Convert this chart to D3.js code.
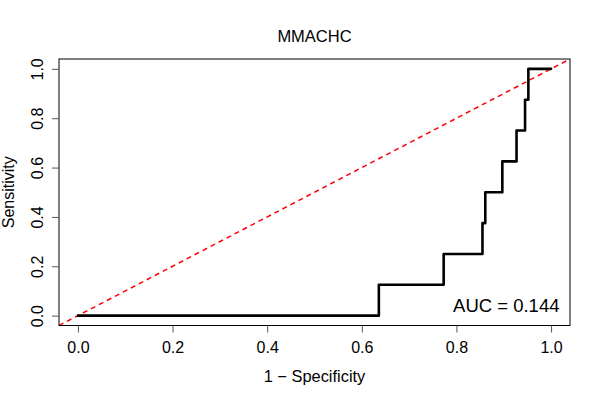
<!DOCTYPE html>
<html>
<head>
<meta charset="utf-8">
<script src="https://cdn.jsdelivr.net/npm/d3@7"></script>
<style>
  html, body { margin: 0; padding: 0; background: #fff; }
  svg { display: block; font-family: "Liberation Sans", Arial, Helvetica, sans-serif; }
</style>
</head>
<body>
<svg id="chart" width="600" height="400"></svg>
<script>
// ---- Data ----
const title = "MMACHC";
const xLabel = "1 \u2212 Specificity";
const yLabel = "Sensitivity";
const aucText = "AUC = 0.144";
// ROC step points: x = 1 - specificity, y = sensitivity (value after the step)
const fpr = [0, 0.636, 0.773, 0.855, 0.861, 0.897, 0.927, 0.945, 0.952, 1.0];
const tpr = [0, 0.125, 0.25, 0.375, 0.5, 0.625, 0.75, 0.875, 1.0, 1.0];
const xTicks = [0, 0.2, 0.4, 0.6, 0.8, 1.0];
const yTicks = [0, 0.2, 0.4, 0.6, 0.8, 1.0];
const refLine = [[-0.04, -0.04], [1.04, 1.04]];

// ---- Layout ----
const svg = d3.select("#chart");
const L = 59, R = 570, T = 59, B = 325.5;

const x = d3.scaleLinear().domain([-0.04, 1.04]).range([L, R]);
const y = d3.scaleLinear().domain([-0.04, 1.04]).range([B, T]);

// clip to plot region
svg.append("defs").append("clipPath").attr("id", "clip")
  .append("rect").attr("x", L).attr("y", T).attr("width", R - L).attr("height", B - T);

const plot = svg.append("g").attr("clip-path", "url(#clip)");

// reference diagonal
plot.append("path")
  .datum(refLine)
  .attr("d", d3.line().x(d => x(d[0])).y(d => y(d[1])))
  .attr("fill", "none")
  .attr("stroke", "#ff0000")
  .attr("stroke-width", 1.5)
  .attr("stroke-dasharray", "5,4");

// ROC curve
const pts = fpr.map((v, i) => [v, tpr[i]]);
plot.append("path")
  .datum(pts)
  .attr("d", d3.line().x(d => x(d[0])).y(d => y(d[1])).curve(d3.curveStepAfter))
  .attr("fill", "none")
  .attr("stroke", "#000")
  .attr("stroke-width", 2.6)
  .attr("stroke-linejoin", "round")
  .attr("stroke-linecap", "round");

// box
svg.append("rect")
  .attr("x", L).attr("y", T).attr("width", R - L).attr("height", B - T)
  .attr("fill", "none").attr("stroke", "#000").attr("stroke-width", 1);

// x axis
const xAxis = svg.append("g").attr("transform", `translate(0,${B})`)
  .call(d3.axisBottom(x).tickValues(xTicks).tickFormat(d3.format(".1f")).tickSize(7).tickPadding(9));
xAxis.select(".domain").remove();
xAxis.selectAll("line").attr("stroke", "#555");
xAxis.selectAll("text").attr("font-size", 16).attr("fill", "#000")
  .attr("font-family", "Liberation Sans, Arial, sans-serif");

// y axis
const yAxis = svg.append("g").attr("transform", `translate(${L},0)`)
  .call(d3.axisLeft(y).tickValues(yTicks).tickFormat(d3.format(".1f")).tickSize(7).tickPadding(0));
yAxis.select(".domain").remove();
yAxis.selectAll("line").attr("stroke", "#555");
yAxis.selectAll("text")
  .attr("font-size", 16).attr("fill", "#000")
  .attr("font-family", "Liberation Sans, Arial, sans-serif")
  .attr("text-anchor", "middle")
  .attr("dy", null)
  .attr("x", null)
  .attr("y", 0)
  .attr("transform", `translate(${43 - L},0) rotate(-90)`);

// titles
svg.append("text").attr("x", (L + R) / 2).attr("y", 42)
  .attr("text-anchor", "middle").attr("font-size", 16.5).text(title);

svg.append("text").attr("x", (L + R) / 2).attr("y", 382)
  .attr("text-anchor", "middle").attr("font-size", 16.4).text(xLabel);

svg.append("text")
  .attr("transform", `translate(14,${(T + B) / 2}) rotate(-90)`)
  .attr("text-anchor", "middle").attr("font-size", 16).text(yLabel);

// AUC annotation
svg.append("text").attr("x", 559.5).attr("y", 312)
  .attr("text-anchor", "end").attr("font-size", 18.5).text(aucText);
</script>
</body>
</html>
